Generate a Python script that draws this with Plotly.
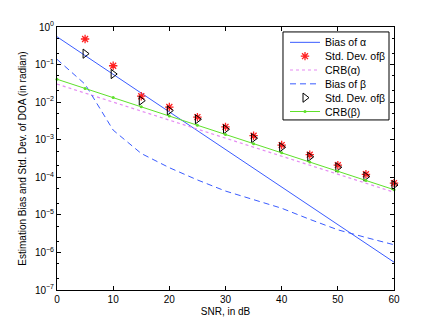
import plotly.graph_objects as go

snr = [0, 5, 10, 15, 20, 25, 30, 35, 40, 45, 50, 55, 60]
snr_mc = [5, 10, 15, 20, 25, 30, 35, 40, 45, 50, 55, 60]

bias_alpha = [0.55, 0.174, 0.055, 0.0174, 0.0055, 1.74e-3, 5.5e-4, 1.74e-4, 5.5e-5,
              1.74e-5, 5.5e-6, 1.74e-6, 5.5e-7]
std_beta_star = [0.48, 0.093, 0.0144, 0.0074, 0.0040, 0.0022, 0.00128, 7.2e-4, 4.0e-4,
                 2.1e-4, 1.2e-4, 7.0e-5]
crb_alpha = [0.0302, 0.0174, 0.0100, 0.00575, 0.00331, 0.00191, 0.0011, 6.3e-4, 3.6e-4,
             2.1e-4, 1.2e-4, 6.9e-5, 4.0e-5]
bias_beta = [0.138, 0.030, 1.8e-3, 4.3e-4, 1.8e-4, 8.5e-5, 4.3e-5, 2.5e-5, 1.5e-5,
             7.6e-6, 4.0e-6, 2.5e-6, 1.6e-6]
std_beta_tri = [0.195, 0.056, 0.011, 0.0060, 0.0035, 0.0019, 0.0011, 6.3e-4, 3.5e-4,
                1.85e-4, 1.05e-4, 6.2e-5]
crb_beta = [0.0407, 0.0232, 0.0132, 0.0075, 0.00427, 0.00243, 0.00138, 7.85e-4, 4.47e-4,
            2.54e-4, 1.45e-4, 8.2e-5, 4.68e-5]

series_names = ["Bias of α", "Std. Dev. ofβ", "CRB(α)", "Bias of β", "Std. Dev. ofβ", "CRB(β)"]

ytick_vals = [1, 1e-1, 1e-2, 1e-3, 1e-4, 1e-5, 1e-6, 1e-7]
ytick_text = ["10<sup>0</sup>", "10<sup>−1</sup>", "10<sup>−2</sup>", "10<sup>−3</sup>",
              "10<sup>−4</sup>", "10<sup>−5</sup>", "10<sup>−6</sup>", "10<sup>−7</sup>"]

FONT = "Liberation Sans, Arial, Helvetica, sans-serif"
BLUE = "#3a5cff"
RED = "#ff2020"
PINK = "#e58cf2"
GREEN = "#5ee02a"

styles = [
    dict(mode="lines", line=dict(color=BLUE, width=1)),
    dict(mode="markers", marker=dict(symbol="asterisk-open", size=7, color=RED,
                                     line=dict(color=RED, width=1.3))),
    dict(mode="lines", line=dict(color=PINK, width=1.2, dash="dot")),
    dict(mode="lines", line=dict(color=BLUE, width=1, dash="6px,4px")),
    dict(mode="markers", marker=dict(symbol="triangle-right-open", size=8, color="black",
                                     line=dict(color="black", width=1))),
    dict(mode="lines+markers", line=dict(color=GREEN, width=1),
         marker=dict(symbol="circle", size=3, color=GREEN)),
]
xs = [snr, snr_mc, snr, snr, snr_mc, snr]
ys = [bias_alpha, std_beta_star, crb_alpha, bias_beta, std_beta_tri, crb_beta]

fig = go.Figure()
for name, x, y, st in zip(series_names, xs, ys, styles):
    fig.add_trace(go.Scatter(x=x, y=y, name=name, showlegend=False, cliponaxis=False, **st))

# ---- MATLAB-style legend box (drawn on an overlay axis in plot-fraction units) ----
box_l, box_r, box_t, box_b = 0.6706, 0.9852, 0.9812, 0.6466
fig.add_trace(go.Scatter(x=[box_l, box_r, box_r, box_l, box_l],
                         y=[box_b, box_b, box_t, box_t, box_b],
                         mode="lines", fill="toself", fillcolor="white",
                         line=dict(color="black", width=1),
                         xaxis="x2", yaxis="y2", showlegend=False, hoverinfo="skip"))
row_y0, row_step = 0.9417, 0.0526
samp_l, samp_r, samp_c, text_x = 0.6914, 0.7804, 0.7359, 0.7893
for i, (name, st) in enumerate(zip(series_names, styles)):
    ry = row_y0 - i * row_step
    if st["mode"] == "markers":
        fig.add_trace(go.Scatter(x=[samp_c], y=[ry], xaxis="x2", yaxis="y2",
                                 showlegend=False, hoverinfo="skip", cliponaxis=False, **st))
    elif st["mode"] == "lines":
        fig.add_trace(go.Scatter(x=[samp_l, samp_r], y=[ry, ry], xaxis="x2", yaxis="y2",
                                 showlegend=False, hoverinfo="skip", cliponaxis=False, **st))
    else:
        fig.add_trace(go.Scatter(x=[samp_l, samp_r], y=[ry, ry], xaxis="x2", yaxis="y2",
                                 mode="lines", line=st["line"],
                                 showlegend=False, hoverinfo="skip", cliponaxis=False))
        fig.add_trace(go.Scatter(x=[samp_c], y=[ry], xaxis="x2", yaxis="y2",
                                 mode="markers", marker=st["marker"],
                                 showlegend=False, hoverinfo="skip", cliponaxis=False))
    fig.add_annotation(x=text_x, y=ry, xref="x2", yref="y2", text=name, showarrow=False,
                       xanchor="left", yanchor="middle", font=dict(size=10.5, color="black"))

fig.update_layout(
    width=428, height=319,
    margin=dict(l=49, r=42, t=16, b=37),
    paper_bgcolor="white", plot_bgcolor="white",
    font=dict(family=FONT, size=10, color="black"),
    showlegend=False,
    xaxis2=dict(overlaying="x", range=[0, 1], visible=False, fixedrange=True),
    yaxis2=dict(overlaying="y", range=[0, 1], visible=False, fixedrange=True),
)
fig.update_xaxes(selector=dict(anchor="y"))
fig.layout.xaxis.update(range=[0, 60], tickvals=[0, 10, 20, 30, 40, 50, 60],
                        ticks="inside", ticklen=4, tickcolor="black",
                        showline=True, linecolor="black", linewidth=1, mirror="allticks",
                        showgrid=False, zeroline=False,
                        title=dict(text="SNR, in dB", standoff=3, font=dict(size=10)))
fig.layout.yaxis.update(type="log", range=[-7, 0], tickvals=ytick_vals, ticktext=ytick_text,
                        ticks="inside", ticklen=4, tickcolor="black",
                        showline=True, linecolor="black", linewidth=1, mirror="allticks",
                        showgrid=False, zeroline=False,
                        minor=dict(ticks="inside", ticklen=2, tickcolor="black", showgrid=False),
                        title=dict(text="Estimation Bias and Std. Dev. of DOA (in radian)",
                                   standoff=6, font=dict(size=10)))

fig.write_html("out.html")
